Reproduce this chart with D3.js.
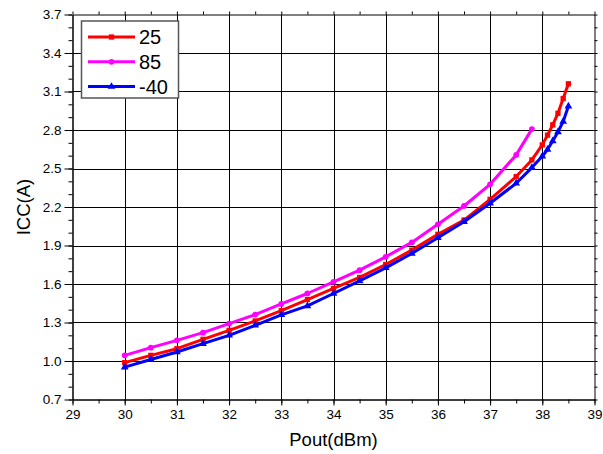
<!DOCTYPE html>
<html><head><meta charset="utf-8">
<script src="https://cdn.jsdelivr.net/npm/d3@7"></script>
<style>body{margin:0;background:#fff}svg{display:block}text{font-family:Arial,"Liberation Sans",sans-serif}</style>
</head><body><svg id="c" width="603" height="454"></svg>
<script>
const xTicks = [29,30,31,32,33,34,35,36,37,38,39];
const yTicks = [0.7,1.0,1.3,1.6,1.9,2.2,2.5,2.8,3.1,3.4,3.7];
const seriesNames = ["25","85","-40"];
const seriesColors = ["#ff0000","#ff00ff","#0000ff"];
const x25 = [30,30.5,31,31.5,32,32.5,33,33.5,34,34.5,35,35.5,36,36.5,37,37.5,37.8,38,38.1,38.2,38.3,38.4,38.5];
const y25 = [0.987,1.044,1.096,1.169,1.239,1.312,1.392,1.479,1.565,1.651,1.752,1.864,1.987,2.098,2.26,2.437,2.567,2.684,2.76,2.84,2.93,3.045,3.16];
const x85 = [30,30.5,31,31.5,32,32.5,33,33.5,34,34.5,35,35.5,36,36.5,37,37.5,37.8];
const y85 = [1.044,1.104,1.161,1.221,1.291,1.362,1.445,1.526,1.617,1.708,1.812,1.924,2.065,2.208,2.377,2.606,2.807];
const xM40 = [30,30.5,31,31.5,32,32.5,33,33.5,34,34.5,35,35.5,36,36.5,37,37.5,37.8,38,38.1,38.2,38.3,38.4,38.5];
const yM40 = [0.952,1.012,1.07,1.135,1.2,1.278,1.36,1.429,1.526,1.624,1.726,1.838,1.96,2.085,2.229,2.385,2.507,2.595,2.648,2.715,2.785,2.866,2.985];

const svg = d3.select("#c");
const L=72.5, R=594.5, T=14.5, B=399.5;
const x = d3.scaleLinear().domain([29,39]).range([L,R]);
const y = d3.scaleLinear().domain([0.7,3.7]).range([B,T]);

// grid
const g = svg.append("g");
g.selectAll(".gx").data(xTicks.slice(1,-1)).enter().append("line")
 .attr("x1",d=>Math.round(x(d))+0.5).attr("x2",d=>Math.round(x(d))+0.5).attr("y1",T).attr("y2",B)
 .attr("stroke","#000").attr("stroke-width",1);
g.selectAll(".gy").data(yTicks.slice(1,-1)).enter().append("line")
 .attr("y1",d=>Math.round(y(d))+0.5).attr("y2",d=>Math.round(y(d))+0.5).attr("x1",L).attr("x2",R)
 .attr("stroke","#000").attr("stroke-width",1);

// axes
const minorX = d3.range(29,39.01,0.5);
const minorY = d3.range(0.7,3.71,0.1);
function axisStyle(sel){sel.select(".domain").attr("stroke","#000").attr("stroke-width",1);sel.selectAll("line").attr("stroke","#000");}
const xa = svg.append("g").attr("transform",`translate(0,${B})`)
 .call(d3.axisBottom(x).tickValues(xTicks).tickFormat(d3.format("d")).tickSizeInner(6).tickSizeOuter(0).tickPadding(4));
xa.selectAll("text").attr("font-size","13.5px").attr("fill","#000");
svg.append("g").attr("transform",`translate(0,${B})`).call(d3.axisBottom(x).tickValues(minorX).tickFormat("").tickSizeInner(4).tickSizeOuter(0)).call(axisStyle);
axisStyle(xa);
const ya = svg.append("g").attr("transform",`translate(${L},0)`)
 .call(d3.axisLeft(y).tickValues(yTicks).tickFormat(d3.format(".1f")).tickSizeInner(8).tickSizeOuter(0).tickPadding(3));
ya.selectAll("text").attr("font-size","13.5px").attr("fill","#000");
svg.append("g").attr("transform",`translate(${L},0)`).call(d3.axisLeft(y).tickValues(minorY).tickFormat("").tickSizeInner(4).tickSizeOuter(0)).call(axisStyle);
axisStyle(ya);
svg.append("g").attr("transform",`translate(0,${T})`).call(d3.axisTop(x).tickValues(minorX).tickFormat("").tickSizeInner(3).tickSizeOuter(0)).call(axisStyle);
svg.append("g").attr("transform",`translate(${R},0)`).call(d3.axisRight(y).tickValues(minorY).tickFormat("").tickSizeInner(3).tickSizeOuter(0)).call(axisStyle);

// titles
svg.append("text").attr("x",(L+R)/2).attr("y",446).attr("text-anchor","middle").attr("font-size","18.5px").text("Pout(dBm)");
svg.append("text").attr("transform",`translate(30,${(T+B)/2}) rotate(-90)`).attr("text-anchor","middle").attr("font-size","18.5px").text("ICC(A)");

// series
const series = [
 {name:seriesNames[0], color:seriesColors[0], xs:x25, ys:y25, sym:d3.symbolSquare, size:28},
 {name:seriesNames[1], color:seriesColors[1], xs:x85, ys:y85, sym:d3.symbolCircle, size:26},
 {name:seriesNames[2], color:seriesColors[2], xs:xM40, ys:yM40, sym:d3.symbolTriangle, size:26}
];
const line = d3.line().x(d=>x(d[0])).y(d=>y(d[1]));
series.forEach(s=>{
  const pts = s.xs.map((v,i)=>[v,s.ys[i]]);
  svg.append("path").datum(pts).attr("d",line).attr("fill","none").attr("stroke",s.color).attr("stroke-width",3).attr("stroke-linejoin","round");
  svg.append("g").selectAll("path").data(pts).enter().append("path")
   .attr("d",d3.symbol().type(s.sym).size(s.size)).attr("transform",d=>`translate(${x(d[0])},${y(d[1])})`).attr("fill",s.color);
});

// legend
const lg = svg.append("g");
lg.append("rect").attr("x",81.5).attr("y",21).attr("width",97).attr("height",77).attr("fill","#fff").attr("stroke","#555").attr("stroke-width",1.5);
series.forEach((s,i)=>{
  const yy = 37 + i*24.8;
  lg.append("line").attr("x1",88).attr("x2",135).attr("y1",yy).attr("y2",yy).attr("stroke",s.color).attr("stroke-width",3);
  lg.append("path").attr("d",d3.symbol().type(s.sym).size(s.size)).attr("transform",`translate(111.5,${yy})`).attr("fill",s.color);
  lg.append("text").attr("x",139).attr("y",yy+7).attr("font-size","20px").text(s.name);
});
</script></body></html>
